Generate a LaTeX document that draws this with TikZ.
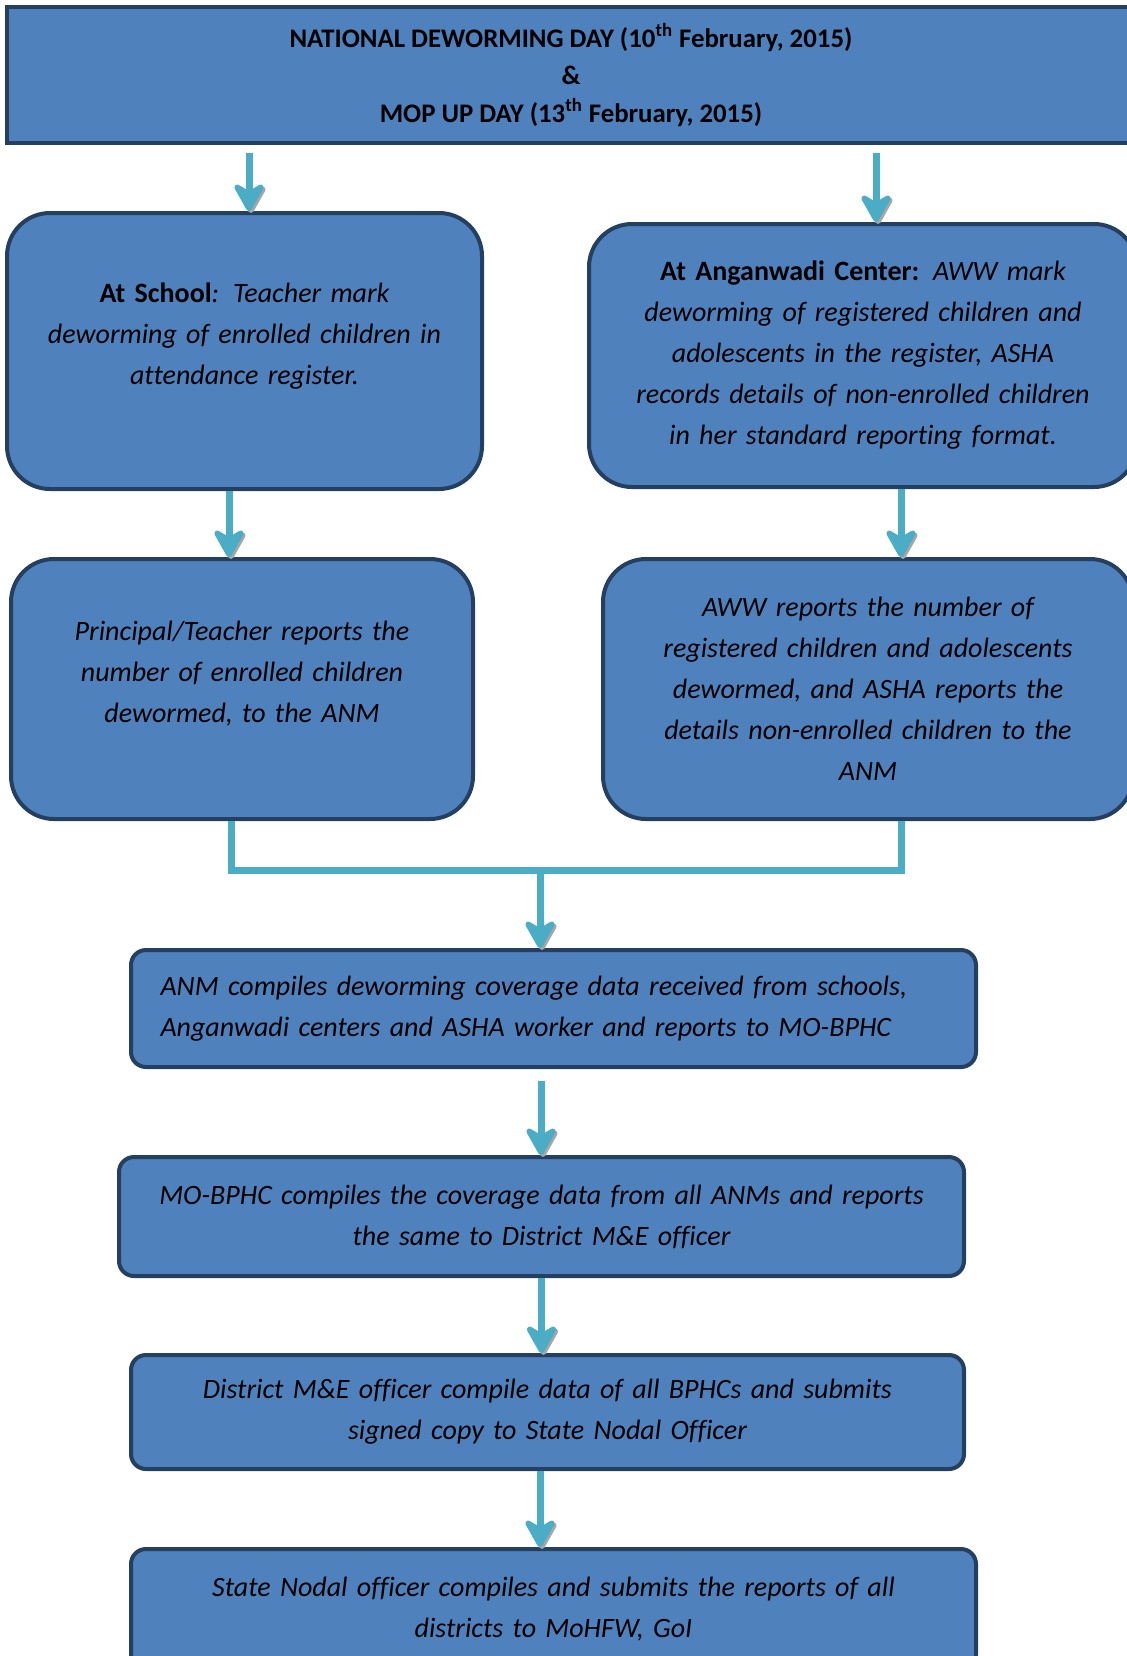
\documentclass[tikz,border=0pt]{standalone}
\usepackage{fontspec}
\setmainfont{Carlito}[Ligatures=NoCommon]
\usetikzlibrary{arrows.meta}
\definecolor{boxblue}{HTML}{4F81BD}
\definecolor{boxline}{HTML}{243F60}
\definecolor{arrteal}{HTML}{4BACC6}
\newcommand\lowpad{\par\nointerlineskip\vbox to 15pt{}}
\begin{document}
\begin{tikzpicture}[x=0.5pt,y=-0.5pt,
    box/.style={draw=boxline,fill=boxblue,line width=2pt,inner sep=0pt,align=center,
      font=\fontsize{14}{20.5}\selectfont\itshape},
    link/.style={draw=arrteal,line width=3.5pt,
      preaction={draw=black!35,transform canvas={shift={(1pt,-1pt)}}}},
    arr/.style={link,-{Stealth[length=17pt,width=19pt,inset=5.5pt,round]}}]
    \useasboundingbox (0,0) rectangle (1127,1656);
    \clip (0,0) rectangle (1127,1656);
    % top banner
    \node[box,minimum width=564pt,minimum height=68pt,
      font=\fontsize{13.4}{18.75}\selectfont\bfseries] (day) at (571,75)
      {NATIONAL DEWORMING DAY (10\textsuperscript{th} February, 2015)\\ \&\\
       MOP UP DAY (13\textsuperscript{th} February, 2015)};
    % two branches
    \node[box,rounded corners=21.5pt,minimum width=237.5pt,minimum height=138pt,text width=230pt]
      (school) at (244.5,351)
      {\textbf{\upshape At School}: Teacher mark\\ deworming of enrolled children in\\
       attendance register.\lowpad};
    \node[box,rounded corners=21.5pt,minimum width=274pt,minimum height=131.5pt,text width=265pt]
      (angan) at (863,355.5)
      {\textbf{\upshape At Anganwadi Center:} AWW mark\\ deworming of registered children and\\
       adolescents in the register, ASHA\\ records details of non-enrolled children\\
       in her standard reporting format.};
    \node[box,rounded corners=21.5pt,minimum width=231pt,minimum height=130pt,text width=225pt]
      (principal) at (242,689)
      {Principal/Teacher reports the\\ number of enrolled children\\
       dewormed, to the ANM\lowpad};
    \node[box,rounded corners=21.5pt,minimum width=265pt,minimum height=130pt,text width=258pt]
      (aww) at (868,689)
      {AWW reports the number of\\ registered children and adolescents\\
       dewormed, and ASHA reports the\\ details non-enrolled children to the\\ ANM};
    % reporting chain
    \node[box,rounded corners=7.5pt,minimum width=422.5pt,minimum height=58.5pt,text width=393pt,
      align=left] (anm) at (553.5,1008.5)
      {ANM compiles deworming coverage data received from schools,\\
       Anganwadi centers and ASHA worker and reports to MO-BPHC};
    \node[box,rounded corners=7.5pt,minimum width=422.5pt,minimum height=59.5pt,text width=410pt]
      (mobphc) at (541.5,1216.5)
      {MO-BPHC compiles the coverage data from all ANMs and reports\\
       the same to District M\&E officer};
    \node[box,rounded corners=7.5pt,minimum width=416.5pt,minimum height=57pt,text width=405pt]
      (district) at (547.5,1412)
      {District M\&E officer compile data of all BPHCs and submits\\
       signed copy to State Nodal Officer};
    \node[box,rounded corners=7.5pt,minimum width=422.5pt,minimum height=60.5pt,text width=410pt]
      (nodal) at (553.5,1609.5)
      {State Nodal officer compiles and submits the reports of all\\
       districts to MoHFW, GoI};
    % arrows
    \draw[arr,shorten <=4pt] ([xshift=2.25pt]school.north |- day.south) -- ([xshift=2.25pt]school.north);
    \draw[arr,shorten <=4pt] ([xshift=6.5pt]angan.north |- day.south) -- ([xshift=6.5pt]angan.north);
    \draw[arr] ([xshift=-7.75pt]school.south) -- ([xshift=-7.75pt]school.south |- principal.north);
    \draw[arr] ([xshift=19pt]angan.south) -- ([xshift=19pt]angan.south |- aww.north);
    \coordinate (join) at (540,870);
    \draw[link] ([xshift=-5.5pt]principal.south) |- (join) -| ([xshift=16.5pt]aww.south);
    \draw[arr] (join) -- (join |- anm.north);
    \draw[arr,shorten <=6pt] ([xshift=-6.25pt]anm.south) -- ([xshift=-6.25pt]anm.south |- mobphc.north);
    \draw[arr] (mobphc.south) -- (mobphc.south |- district.north);
    \draw[arr] ([xshift=-3.75pt]district.south) -- ([xshift=-3.75pt]district.south |- nodal.north);
\end{tikzpicture}
\end{document}
